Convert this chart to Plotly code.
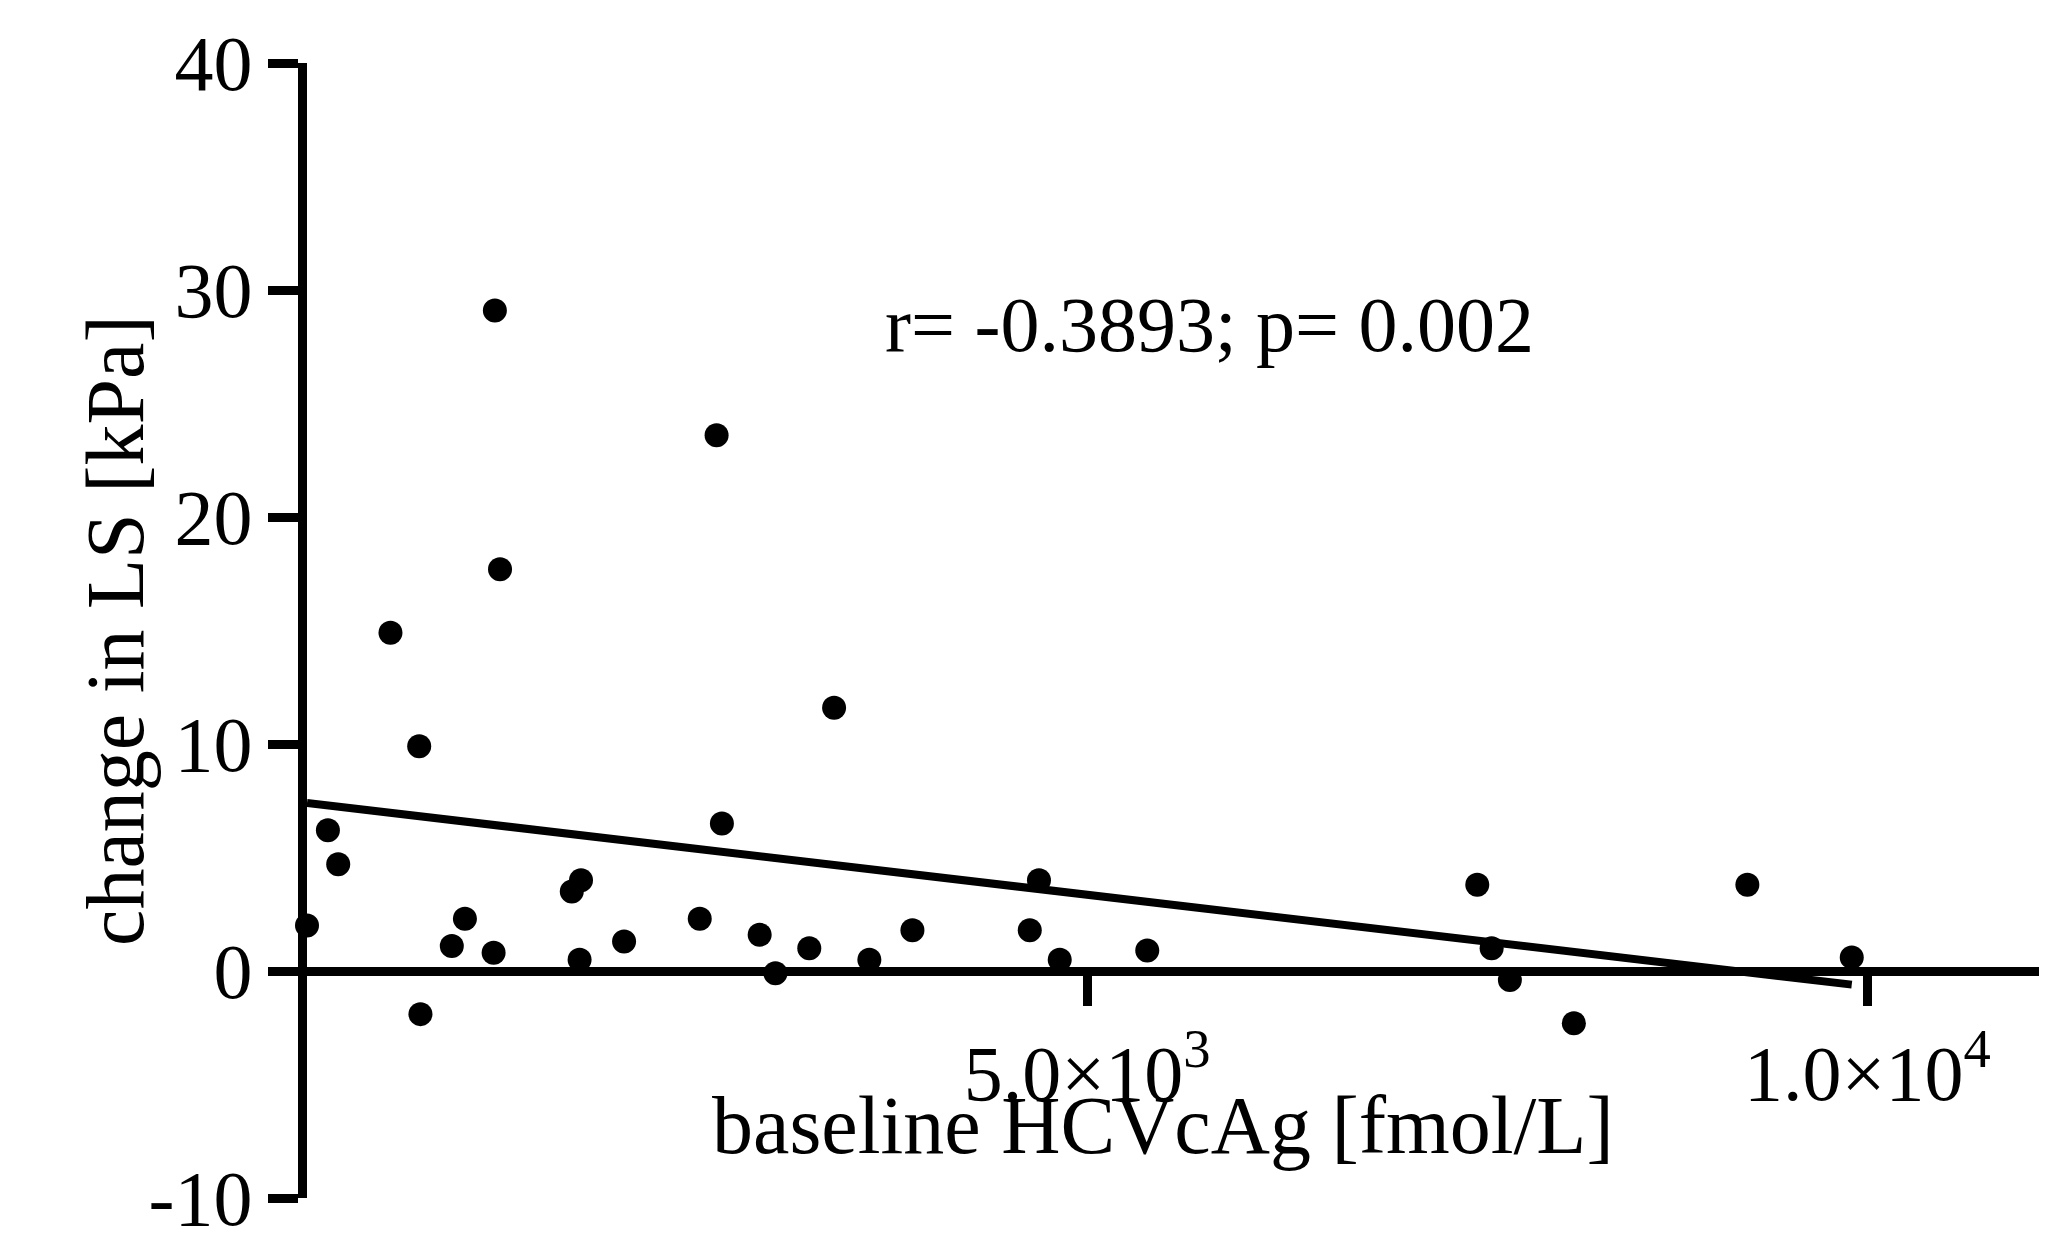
import plotly.graph_objects as go

# baseline HCVcAg [fmol/L]
hcv = [0, 134, 200, 535, 719, 727, 928, 1012, 1204, 1196, 1237, 1697, 1756, 1747,
       2032, 2517, 2625, 2659, 2901, 3002, 3219, 3378, 3604, 3880, 4632, 4691,
       4824, 5385, 7500, 7592, 7709, 8119, 9231, 9900]
# change in LS [kPa]
dls = [2.0, 6.2, 4.7, 14.9, 9.9, -1.9, 1.1, 2.3, 29.1, 0.8, 17.7, 3.5, 4.0, 0.5,
       1.3, 2.3, 23.6, 6.5, 1.6, -0.1, 1.0, 11.6, 0.5, 1.8, 1.8, 4.0,
       0.5, 0.9, 3.8, 1.0, -0.4, -2.3, 3.8, 0.6]

fit_x = [0, 9900]
fit_y = [7.4, -0.6]

y_ticks = [-10, 0, 10, 20, 30, 40]
y_labels = ["-10", "0", "10", "20", "30", "40"]

font = "Liberation Serif"

fig = go.Figure()
fig.add_trace(go.Scatter(x=hcv, y=dls, mode="markers",
                         marker=dict(color="black", size=24), cliponaxis=False))
fig.add_trace(go.Scatter(x=fit_x, y=fit_y, mode="lines",
                         line=dict(color="black", width=8)))

fig.update_layout(
    width=2048, height=1247, showlegend=False,
    plot_bgcolor="white", paper_bgcolor="white",
    margin=dict(l=299, r=17, t=43, b=57),
    font=dict(family=font, size=78, color="black"),
    xaxis=dict(range=[0, 11100], showgrid=False, zeroline=False,
               showline=True, linewidth=9, linecolor="black",
               anchor="free", position=0.2,
               ticks="outside", ticklen=30, tickwidth=9, tickcolor="black",
               tickvals=[5000, 10000],
               ticktext=["5.0×10<sup>3</sup>", "1.0×10<sup>4</sup>"]),
    yaxis=dict(range=[-10, 40], showgrid=False, zeroline=False,
               showline=True, linewidth=9, linecolor="black",
               ticks="outside", ticklen=30, tickwidth=9, tickcolor="black",
               tickvals=y_ticks, ticktext=y_labels),
)

fig.add_annotation(x=(1155 - 299) / 1732, xref="paper", y=(1190 - 1165) / 1147,
                   yref="paper", text="baseline HCVcAg [fmol/L]", showarrow=False,
                   font=dict(size=82))
fig.add_annotation(x=-(299 - 60) / 1732, xref="paper", y=0.5, yref="paper",
                   text="change in LS [kPa]", textangle=-90, showarrow=False,
                   font=dict(size=82))
fig.add_annotation(x=(1201 - 299) / 1732, xref="paper", y=(1190 - 261) / 1147,
                   yref="paper", text="r= -0.3893; p= 0.002", showarrow=False,
                   font=dict(size=78))

fig.write_html("out.html")
